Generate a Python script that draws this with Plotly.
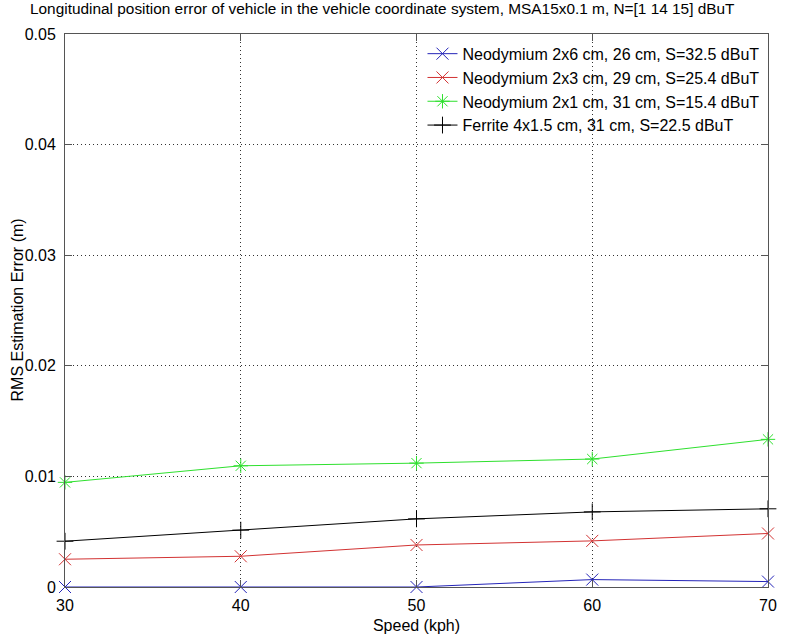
import plotly.graph_objects as go

speed = [30, 40, 50, 60, 70]
neo_2x6 = [0.0, 0.0, 0.0, 0.00067, 0.00049]
neo_2x3 = [0.00251, 0.00278, 0.0038, 0.00417, 0.00484]
neo_2x1 = [0.00946, 0.01096, 0.0112, 0.01157, 0.01335]
ferrite = [0.00414, 0.00514, 0.00616, 0.00679, 0.00707]

names = [
    "Neodymium 2x6 cm, 26 cm, S=32.5 dBuT",
    "Neodymium 2x3 cm, 29 cm, S=25.4 dBuT",
    "Neodymium 2x1 cm, 31 cm, S=15.4 dBuT",
    "Ferrite 4x1.5 cm, 31 cm, S=22.5 dBuT",
]
series = [neo_2x6, neo_2x3, neo_2x1, ferrite]
colors = ["#2424b8", "#d23232", "#2ee02e", "#000000"]
symbols = ["x-thin-open", "x-thin-open", "asterisk-open", "cross-thin-open"]

yticks = [0, 0.01, 0.02, 0.03, 0.04, 0.05]
yticktext = ["0", "0.01", "0.02", "0.03", "0.04", "0.05"]
xticks = [30, 40, 50, 60, 70]

title_text = "Longitudinal position error of vehicle in the vehicle coordinate system, MSA15x0.1 m, N=[1 14 15] dBuT"
x_title = "Speed (kph)"
y_title = "RMS Estimation Error (m)"

fig = go.Figure()
for name, ys, c, s in zip(names, series, colors, symbols):
    fig.add_trace(go.Scatter(
        x=speed, y=ys, name=name, mode="lines+markers", cliponaxis=False,
        line=dict(color=c, width=1),
        marker=dict(symbol=s, size=12, color=c, line=dict(color=c, width=1)),
    ))

axis_common = dict(
    showline=True, linecolor="#555", linewidth=1, mirror="ticks",
    ticks="inside", ticklen=7, tickcolor="#555",
    showgrid=True, gridcolor="#333", griddash="1px,3px", gridwidth=1,
    zeroline=False, tickfont=dict(size=16, color="#000"), automargin=False,
)

fig.update_layout(
    width=789, height=639,
    margin=dict(l=65, r=21, t=34, b=52),
    paper_bgcolor="white", plot_bgcolor="white",
    font=dict(family="Liberation Sans, Arial, sans-serif", color="#000"),
    title=dict(
        text=title_text, xref="container",
        x=0, xanchor="left", y=0.995, yanchor="top",
        pad=dict(l=30, t=0),
        font=dict(size=15.4),
    ),
    xaxis=dict(range=[30, 70], tickvals=xticks, ticklabelstandoff=4,
               title=dict(text=x_title, font=dict(size=16), standoff=6),
               **axis_common),
    yaxis=dict(range=[0, 0.05], tickvals=yticks, ticktext=yticktext,
               ticklabelstandoff=5, **axis_common),
    annotations=[dict(
        text=y_title, textangle=-90, xref="paper", yref="paper",
        x=0, y=0.5, xanchor="center", yanchor="middle", xshift=-48,
        showarrow=False, font=dict(size=16),
    )],
    legend=dict(x=0.995, y=0.995, xanchor="right", yanchor="top",
                bgcolor="rgba(0,0,0,0)", font=dict(size=16),
                tracegroupgap=0, itemwidth=30),
    showlegend=True,
)

fig.write_html("out.html")
